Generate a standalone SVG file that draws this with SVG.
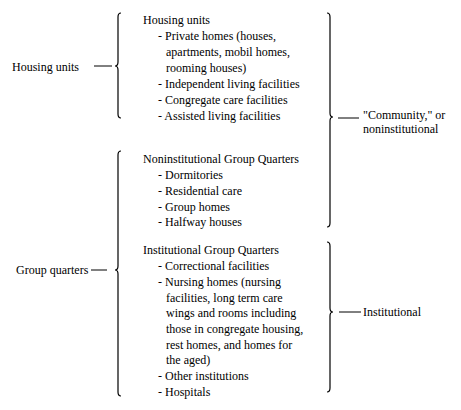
<svg xmlns="http://www.w3.org/2000/svg" width="461" height="410" viewBox="0 0 461 410">
<style>
.b{fill:none;stroke:#000;stroke-width:1.2}
.c{stroke:#000;stroke-width:1}
</style>
<rect width="461" height="410" fill="#fff"/>
<g id="connectors">
<path class="b" d="M121,13 Q118,13 118,17 L118,62 Q118,66 115,66 Q118,66 118,70 L118,114 Q118,118 121,118"/>
<line class="c" x1="94" y1="66" x2="112" y2="66"/>
<path class="b" d="M121,151 Q118,151 118,155 L118,266 Q118,270 115,270 Q118,270 118,274 L118,392 Q118,396 121,396"/>
<line class="c" x1="91" y1="270" x2="107" y2="270"/>
<path class="b" d="M327,13 Q330,13 330,17 L330,113 Q330,117 333,117 Q330,117 330,121 L330,223 Q330,227 327,227"/>
<line class="c" x1="338" y1="118" x2="359" y2="118"/>
<path class="b" d="M327,242 Q330,242 330,246 L330,308 Q330,312 333,312 Q330,312 330,316 L330,388 Q330,392 327,392"/>
<line class="c" x1="339" y1="312" x2="361" y2="312"/>
</g>
<g font-family="Liberation Serif, DejaVu Serif, serif" font-size="12" fill="#000">
<g id="left-housing"><text x="12" y="71">Housing units</text></g>
<g id="left-group"><text x="16" y="274">Group quarters</text></g>
<g id="housing">
<text x="143" y="24">Housing units</text>
<text x="158" y="40">- Private homes (houses,</text>
<text x="166" y="56">apartments, mobil homes,</text>
<text x="166" y="72">rooming houses)</text>
<text x="158" y="88">- Independent living facilities</text>
<text x="158" y="104">- Congregate care facilities</text>
<text x="158" y="120">- Assisted living facilities</text>
</g>
<g id="noninst">
<text x="143" y="163">Noninstitutional Group Quarters</text>
<text x="158" y="179">- Dormitories</text>
<text x="158" y="195">- Residential care</text>
<text x="158" y="211">- Group homes</text>
<text x="158" y="226">- Halfway houses</text>
</g>
<g id="inst">
<text x="143" y="254">Institutional Group Quarters</text>
<text x="158" y="270">- Correctional facilities</text>
<text x="158" y="286">- Nursing homes (nursing</text>
<text x="166" y="302">facilities, long term care</text>
<text x="166" y="317">wings and rooms including</text>
<text x="166" y="333">those in congregate housing,</text>
<text x="166" y="349">rest homes, and homes for</text>
<text x="166" y="364">the aged)</text>
<text x="158" y="380">- Other institutions</text>
<text x="158" y="396">- Hospitals</text>
</g>
<g id="community">
<text x="363" y="119">"Community," or</text>
<text x="363" y="133">noninstitutional</text>
</g>
<g id="institutional"><text x="363" y="316">Institutional</text></g>
</g>
</svg>
